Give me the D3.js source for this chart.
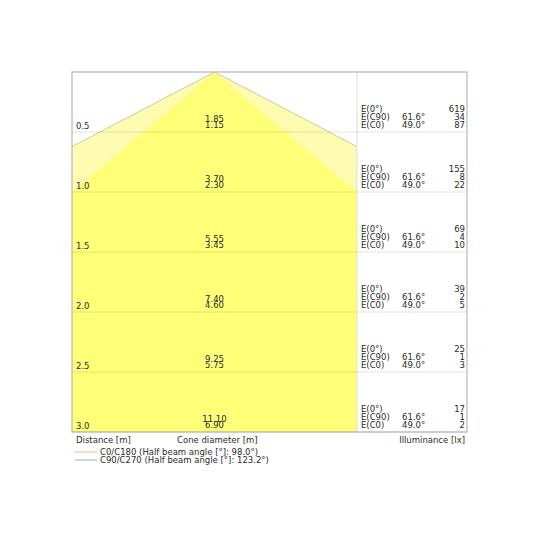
<!DOCTYPE html>
<html lang="en">
<head>
<meta charset="utf-8">
<title>Cone diagram</title>
<script src="https://cdn.jsdelivr.net/npm/d3@7/dist/d3.min.js"></script>
<style>
  body { margin: 0; background: #fff; }
  text { font-family: "DejaVu Sans", sans-serif; font-size: 8.5px; fill: #2a2a2a; }
</style>
</head>
<body>
<svg id="chart" width="540" height="540"></svg>
<script type="text/javascript">
// data
var distances = [0.5, 1.0, 1.5, 2.0, 2.5, 3.0];
var diamC90 = ["1.85", "3.70", "5.55", "7.40", "9.25", "11.10"];
var diamC0 = ["1.15", "2.30", "3.45", "4.60", "5.75", "6.90"];
var e0 = [619, 155, 69, 39, 25, 17];
var eC90 = [34, 8, 4, 2, 1, 1];
var eC0 = [87, 22, 10, 5, 3, 2];
var halfAngleC90 = 61.6, halfAngleC0 = 49.0;
var legendLabels = ["C0/C180 (Half beam angle [°]: 98.0°)", "C90/C270 (Half beam angle [°]: 123.2°)"];
var legendColors = ["#f2b98c", "#a9a9b8"];

var svg = d3.select("#chart");

var boxL = 72, boxR = 467, split = 357, boxT = 72, boxB = 432;

var y = d3.scaleLinear().domain([0, 3]).range([boxT, boxB]);
// half width of narrow cone at 1 m fills the cone area
var xHalf = Math.tan(halfAngleC0 * Math.PI / 180);
var x = d3.scaleLinear().domain([-xHalf, xHalf]).range([boxL, split]);

svg.append("clipPath").attr("id", "coneclip")
  .append("rect").attr("x", boxL).attr("y", boxT)
  .attr("width", split - boxL).attr("height", boxB - boxT);

var cones = svg.append("g").attr("clip-path", "url(#coneclip)");

function conePts(angle) {
  var t = Math.tan(angle * Math.PI / 180), d = 3;
  return [[x(0), y(0)], [x(-t * d), y(d)], [x(t * d), y(d)]];
}

var line = d3.line();

cones.append("path")
  .attr("d", line(conePts(halfAngleC90)) + "Z")
  .attr("fill", "#fffcb2")
  .attr("stroke", "#b5b57a")
  .attr("stroke-width", 0.7);

cones.append("path")
  .attr("d", line(conePts(halfAngleC0)) + "Z")
  .attr("fill", "#ffff78")
  .attr("stroke", "#f2f290")
  .attr("stroke-width", 0.5);

// horizontal rows
svg.selectAll(".row").data(distances).enter().append("line")
  .attr("class", "row")
  .attr("x1", boxL).attr("x2", boxR)
  .attr("y1", function(d) { return y(d); })
  .attr("y2", function(d) { return y(d); })
  .attr("stroke", "#000").attr("stroke-opacity", 0.1).attr("stroke-width", 1);

// divider and box
svg.append("line").attr("x1", split).attr("x2", split).attr("y1", boxT).attr("y2", boxB)
  .attr("stroke", "#ddd").attr("stroke-width", 1);
svg.append("rect").attr("x", boxL).attr("y", boxT)
  .attr("width", boxR - boxL).attr("height", boxB - boxT)
  .attr("fill", "none").attr("stroke", "#a8a8a8").attr("stroke-width", 1);

// distance labels
svg.selectAll(".dist").data(distances).enter().append("text")
  .attr("x", boxL + 4).attr("y", function(d) { return y(d) - 3; })
  .text(function(d) { return d.toFixed(1); });

// cone diameters
svg.selectAll(".d90").data(distances).enter().append("text")
  .attr("x", x(0)).attr("y", function(d) { return y(d) - 10; })
  .attr("text-anchor", "middle")
  .text(function(d, i) { return diamC90[i]; });
svg.selectAll(".d0").data(distances).enter().append("text")
  .attr("x", x(0)).attr("y", function(d) { return y(d) - 4; })
  .attr("text-anchor", "middle")
  .text(function(d, i) { return diamC0[i]; });

// illuminance block
var rows = svg.selectAll(".ill").data(distances).enter().append("g")
  .attr("transform", function(d) { return "translate(0," + y(d) + ")"; });

var names = ["E(0°)", "E(C90)", "E(C0)"];
names.forEach(function(n, k) {
  var dy = -20 + k * 8;
  rows.append("text").attr("x", split + 4).attr("y", dy).text(n);
  if (k > 0) {
    rows.append("text").attr("x", 402).attr("y", dy)
      .text((k == 1 ? halfAngleC90 : halfAngleC0).toFixed(1) + "°");
  }
  rows.append("text").attr("x", boxR - 2).attr("y", dy).attr("text-anchor", "end")
    .text(function(d, i) { return [e0, eC90, eC0][k][i]; });
});

// footer labels
svg.append("text").attr("x", boxL + 4).attr("y", 443).text("Distance [m]");
svg.append("text").attr("x", 177).attr("y", 443).text("Cone diameter [m]");
svg.append("text").attr("x", boxR - 2).attr("y", 443).attr("text-anchor", "end").text("Illuminance [lx]");

// legend
legendLabels.forEach(function(l, i) {
  var ly = 455 + i * 8;
  svg.append("line").attr("x1", 75).attr("x2", 97).attr("y1", ly - 3).attr("y2", ly - 3)
    .attr("stroke", legendColors[i]).attr("stroke-width", 1);
  svg.append("text").attr("x", 100).attr("y", ly).text(l);
});
</script>
</body>
</html>
